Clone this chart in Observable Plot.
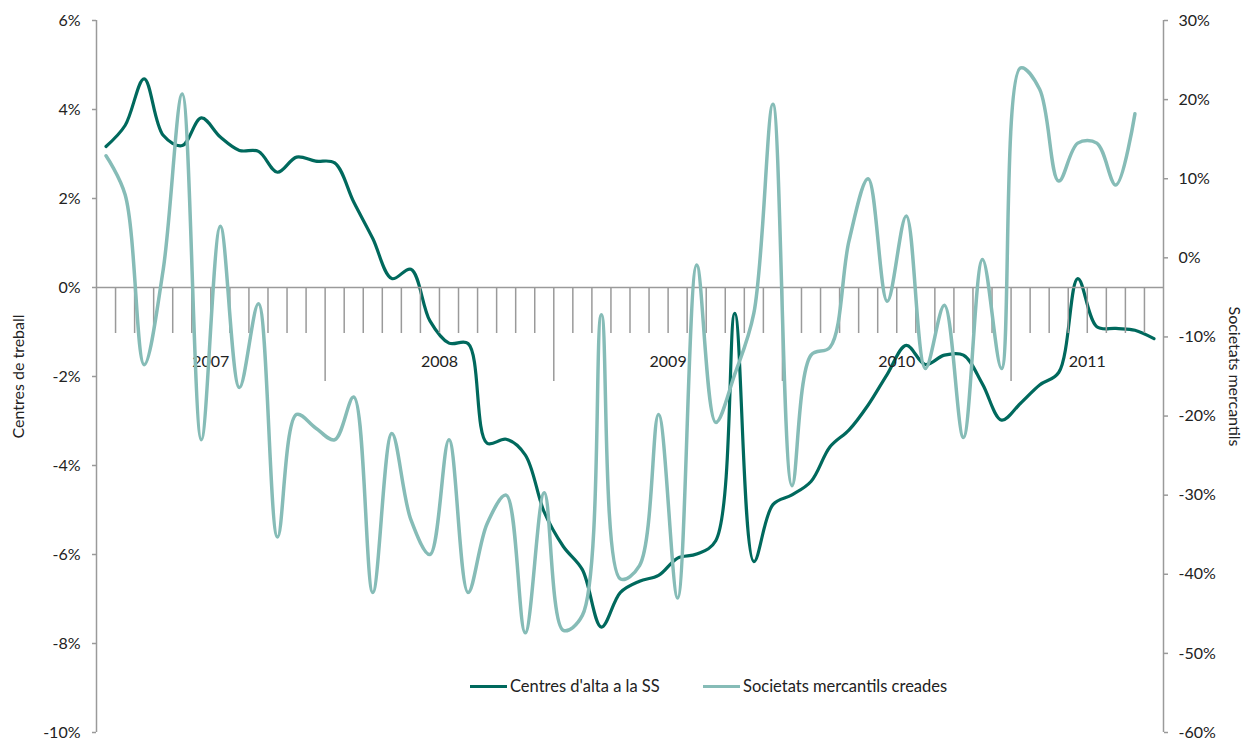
<!DOCTYPE html>
<html>
<head>
<meta charset="utf-8">
<script src="https://cdn.jsdelivr.net/npm/d3@7"></script>
<script src="https://cdn.jsdelivr.net/npm/@observablehq/plot@0.6"></script>
<style>
  html, body { margin: 0; padding: 0; background: #fff; }
  #wrap { position: relative; width: 1247px; height: 747px; font-family: Lato, "Open Sans", sans-serif; }
  .leg { position: absolute; top: 675px; height: 22px; display: flex; align-items: center; font-size: 16.5px; color: #222; white-space: nowrap; }
  .sw { display: inline-block; width: 37px; height: 3px; margin-right: 3px; }
</style>
</head>
<body>
<div id="wrap"></div>
<script>
// ---- data (monthly, Jan 2007 – Aug 2011) ----
const years = ["2007", "2008", "2009", "2010", "2011"];
const monthsPerYear = [12, 12, 12, 12, 8];
const seriesNames = ["Centres d'alta a la SS", "Societats mercantils creades"];
// Centres d'alta a la SS (% left axis)
const centres = [3.17, 3.64, 4.69, 3.42, 3.19, 3.81, 3.38, 3.08, 3.06, 2.59, 2.93, 2.84,
  2.80, 1.92, 1.10, 0.20, 0.41, -0.75, -1.25, -1.26, -3.50, -3.41, -3.76, -5.05,
  -5.82, -6.34, -7.63, -6.85, -6.60, -6.47, -6.08, -5.99, -5.69, -0.58, -6.16, -4.88,
  -4.66, -4.36, -3.58, -3.20, -2.64, -1.95, -1.30, -1.73, -1.52, -1.52, -2.17, -2.98,
  -2.60, -2.19, -1.91, 0.20, -0.88, -0.92, -0.96, -1.15];
// Societats mercantils creades (% right axis)
const societats = [12.9, 8.0, -13.5, -1.5, 20.7, -23.0, 4.0, -16.4, -5.8, -35.3, -19.8, -21.5,
  -23.0, -17.6, -42.3, -22.2, -33.1, -37.5, -23.0, -42.3, -33.6, -30.0, -47.4, -29.7,
  -47.1, -45.2, -7.2, -40.6, -38.9, -19.8, -43.0, -0.9, -20.8, -14.7, -7.0, 19.4,
  -28.8, -12.3, -11.3, 2.2, 10.0, -5.5, 5.3, -14.0, -6.0, -22.7, -0.2, -14.0,
  24.0, 21.3, 9.7, 14.5, 14.5, 9.2, 18.2];
const leftTicks = [6, 4, 2, 0, -2, -4, -6, -8, -10];
const rightTicks = [30, 20, 10, 0, -10, -20, -30, -40, -50, -60];
const leftLabel = "Centres de treball";
const rightLabel = "Societats mercantils";

// ---- derived ----
const leftDomain = [-10, 6];
const rightDomain = [-60, 30];
const toLeft = d3.scaleLinear(rightDomain, leftDomain);
const nMonths = d3.sum(monthsPerYear);
const pxPerUnit = (747 - 20 - 15) / (leftDomain[1] - leftDomain[0]);

const centresData = centres.map((v, i) => ({x: i + 0.5, y: v}));
const socData = societats.map((v, i) => ({x: i + 0.5, y: toLeft(v)}));

const yearStarts = d3.cumsum([0, ...monthsPerYear]);
const yearData = years.map((yr, k) => ({x: (yearStarts[k] + yearStarts[k + 1]) / 2, label: yr}));
const boundaries = new Set(yearStarts.slice(1, -1));
const monthTicks = d3.range(1, nMonths).map(i => ({x: i, long: boundaries.has(i)}));

const darkColor = "#00695d";
const lightColor = "#86bcb7";
const axisColor = "#9a9a9a";

const chart = Plot.plot({
  width: 1247,
  height: 747,
  marginLeft: 96,
  marginRight: 84,
  marginTop: 20,
  marginBottom: 15,
  style: {fontFamily: "Lato, 'Open Sans', sans-serif", fontSize: "16px", color: "#222", background: "#fff"},
  x: {domain: [0, nMonths], axis: null},
  y: {domain: leftDomain, axis: null},
  marks: [
    Plot.ruleX([0, nMonths], {stroke: axisColor, strokeWidth: 1.5}),
    Plot.axisY(leftTicks, {anchor: "left", tickFormat: d => d + "%", tickSize: 4, tickPadding: 12,
      stroke: axisColor, strokeWidth: 1.5, label: null, fill: "#222", fontSize: 16}),
    Plot.axisY(rightTicks.map(toLeft), {anchor: "right", tickFormat: d => Math.round(toLeft.invert(d)) + "%",
      tickSize: 4, tickPadding: 11, stroke: axisColor, strokeWidth: 1.5, label: null, fill: "#222", fontSize: 16}),
    Plot.text([leftLabel], {frameAnchor: "left", textAnchor: "middle", dx: -78, rotate: -90, fill: "#222", fontSize: 16}),
    Plot.text([rightLabel], {frameAnchor: "right", textAnchor: "middle", dx: 71, rotate: 90, fill: "#222", fontSize: 16}),
    Plot.line(centresData, {x: "x", y: "y", stroke: darkColor, strokeWidth: 3.2, curve: "catmull-rom"}),
    Plot.ruleY([0], {stroke: axisColor, strokeWidth: 1.5}),
    Plot.ruleX(monthTicks, {x: "x", y1: 0, y2: d => -(d.long ? 94 : 46) / pxPerUnit, stroke: axisColor, strokeWidth: 1.5}),
    Plot.text(yearData, {x: "x", y: -74 / pxPerUnit, text: "label", fill: "#222", fontSize: 16}),
    Plot.line(socData, {x: "x", y: "y", stroke: lightColor, strokeWidth: 3.5, curve: "catmull-rom"})
  ]
});

const wrap = document.getElementById("wrap");
wrap.appendChild(chart);

// legend (inside plot area, bottom centre)
const legendItems = [
  {name: seriesNames[0], color: darkColor, left: 470},
  {name: seriesNames[1], color: lightColor, left: 703}
];
legendItems.forEach(it => {
  const d = document.createElement("div");
  d.className = "leg";
  d.style.left = it.left + "px";
  const s = document.createElement("span");
  s.className = "sw";
  s.style.background = it.color;
  d.appendChild(s);
  d.appendChild(document.createTextNode(it.name));
  wrap.appendChild(d);
});
</script>
</body>
</html>
